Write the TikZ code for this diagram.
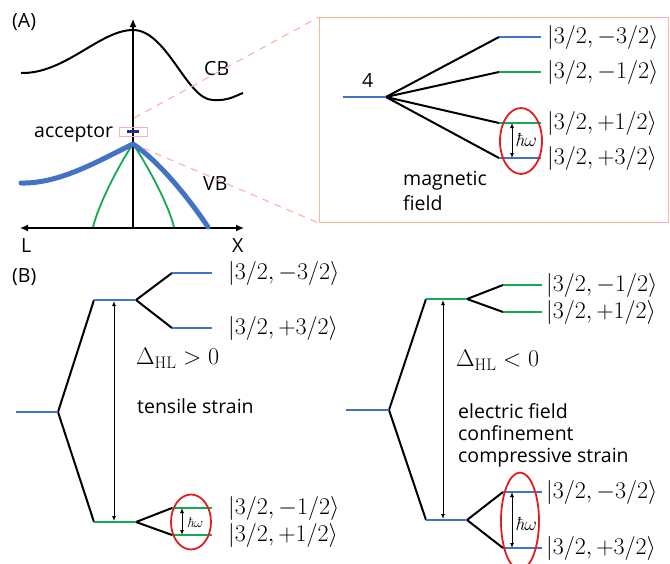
\RequirePackage{fix-cm}
\documentclass[tikz,border=0pt]{standalone}
\usepackage{fontspec}
\newfontfamily\osans{Open Sans}
\usetikzlibrary{arrows.meta}
\definecolor{lvblue}{RGB}{68,114,196}
\definecolor{lvgreen}{RGB}{20,170,80}
\definecolor{ovred}{RGB}{225,30,35}
\definecolor{pinkline}{RGB}{245,180,165}
\definecolor{navyc}{RGB}{40,40,140}
\tikzset{
  axisline/.style={line width=1.3pt},
  fanline/.style={line width=2pt, black},
  bluelev/.style={line width=2.4pt, lvblue},
  greenlev/.style={line width=2.4pt, lvgreen},
  dblarrow/.style={{Latex[length=5pt,width=4pt]}-{Latex[length=5pt,width=4pt]}, line width=0.9pt},
  ket/.style={anchor=west, inner sep=0pt, font=\fontsize{24}{28}\selectfont},
  txt/.style={anchor=base west, inner sep=0pt, font=\osans\fontsize{19.5}{23}\selectfont},
  hwlab/.style={anchor=west, inner sep=0pt, font=\fontsize{19}{22}\selectfont},
  oval/.style={draw=ovred, line width=1.8pt},
  pinkdash/.style={pinkline, line width=1.1pt, dash pattern=on 7pt off 6pt},
}
\newcommand{\hw}{{\itshape ħ}$\omega$}
\begin{document}
\begin{tikzpicture}[x=1pt,y=-1pt,line join=round]
\useasboundingbox (0,0) rectangle (670,563);

% ---------------- Panel A: band structure ----------------
\node[txt] (labA) at (12,27) {(A)};
\coordinate (yaxB) at (133,228);
\coordinate (yaxT) at (133,19);
\coordinate (xL) at (20,228);
\coordinate (xR) at (244,228);
\draw[axisline,-{Latex[length=8pt,width=7pt]}] (yaxB) -- (yaxT);
\draw[axisline,{Latex[length=8pt,width=7pt]}-{Latex[length=8pt,width=7pt]}] (xL) -- (xR);
\node[txt] (labL) at (21,252) {L};
\node[txt] (labX) at (232,252) {X};

% conduction band
\coordinate (cb0) at (21,73);
\coordinate (cbp) at (133,30);
\coordinate (cbm) at (213,100);
\coordinate (cb1) at (243,93);
\draw[line width=2pt] (cb0) .. controls (65,74) and (100,30) .. (cbp)
  .. controls (167,30) and (187,100) .. (cbm)
  .. controls (228,101) and (235,96) .. (cb1);
\node[txt] (labCB) at (204,75) {CB};

% valence band
\coordinate (vbp) at (133,144);
\coordinate (vb0) at (21,183);
\coordinate (vb1) at (208,227);
\coordinate (gr0) at (93,227);
\coordinate (gr1) at (174,227);
\draw[lvgreen,line width=1.8pt] (gr0) .. controls (100,200) and (122,160) .. (vbp)
  .. controls (144,160) and (167,200) .. (gr1);
\draw[lvblue,line width=5pt,line cap=round] (vb0) .. controls (60,184) and (100,160) .. (vbp)
  .. controls (160,162) and (190,200) .. (vb1);
\node[txt] (labVB) at (203,190) {VB};

% acceptor
\coordinate (acc0) at (127,131.5);
\coordinate (acc1) at (139,131.5);
\draw[navyc,line width=2.2pt] (acc0) -- (acc1);
\node[draw=pinkline,line width=1pt,minimum width=28pt,minimum height=9pt,inner sep=0pt] (accbox) at (133,131.5) {};
\node[txt] (labacc) at (34,137) {acceptor};

% zoom lines and inset box
\coordinate (zt0) at (134,118);
\coordinate (zb0) at (143,148);
\node[draw=pinkline,line width=1.1pt,minimum width=349pt,minimum height=205pt,inner sep=0pt,anchor=north west] (inset) at (319,17) {};
\draw[pinkdash] (zt0) -- (inset.north west);
\draw[pinkdash] (zb0) -- (inset.south west);

% ---------------- Inset: magnetic field ----------------
\coordinate (m0a) at (343,97);
\coordinate (m0b) at (386,97);
\coordinate (m1a) at (499,37);  \coordinate (m1b) at (541,37);
\coordinate (m2a) at (499,72);  \coordinate (m2b) at (541,72);
\coordinate (m3a) at (499,123); \coordinate (m3b) at (541,123);
\coordinate (m4a) at (499,158); \coordinate (m4b) at (541,158);
\foreach \t in {m1a,m2a,m3a,m4a} \draw[fanline] (m0b) -- (\t);
\draw[bluelev] (m0a) -- (m0b);
\draw[bluelev] (m1a) -- (m1b);
\draw[greenlev] (m2a) -- (m2b);
\draw[greenlev] (m3a) -- (m3b);
\draw[bluelev] (m4a) -- (m4b);
\node[txt] (lab4) at (362,87) {4};
\node[ket] (k1) at (547,37) {$|3/2,-3/2\rangle$};
\node[ket] (k2) at (547,72) {$|3/2,-1/2\rangle$};
\node[ket] (k3) at (547,123) {$|3/2,+1/2\rangle$};
\node[ket] (k4) at (547,158) {$|3/2,+3/2\rangle$};
\coordinate (ma1) at (512,123);
\coordinate (ma2) at (512,158);
\draw[dblarrow] (ma1) -- (ma2);
\node[hwlab] (hw1) at (515,140) {\hw};
\coordinate (ov1) at (521,141);
\draw[oval] (ov1) ellipse [x radius=21, y radius=33];
\node[txt] (labmag1) at (403,185) {magnetic};
\node[txt] (labmag2) at (403,210) {field};

% ---------------- Panel B left: tensile strain ----------------
\node[txt] (labB) at (12,282) {(B)};
\coordinate (p0a) at (16,412);  \coordinate (p0b) at (58,412);
\coordinate (pta) at (94,300);  \coordinate (ptb) at (136,300);
\coordinate (pba) at (94,522);  \coordinate (pbb) at (136,522);
\coordinate (s1a) at (172,273); \coordinate (s1b) at (212,273);
\coordinate (s2a) at (172,328); \coordinate (s2b) at (212,328);
\coordinate (s3a) at (172,508); \coordinate (s3b) at (212,508);
\coordinate (s4a) at (172,535); \coordinate (s4b) at (212,535);
\draw[fanline] (p0b) -- (pta);
\draw[fanline] (p0b) -- (pba);
\draw[fanline] (ptb) -- (s1a);
\draw[fanline] (ptb) -- (s2a);
\draw[fanline] (pbb) -- (s3a);
\draw[fanline] (pbb) -- (s4a);
\draw[bluelev] (p0a) -- (p0b);
\draw[bluelev] (pta) -- (ptb);
\draw[greenlev] (pba) -- (pbb);
\draw[bluelev] (s1a) -- (s1b);
\draw[bluelev] (s2a) -- (s2b);
\draw[greenlev] (s3a) -- (s3b);
\draw[greenlev] (s4a) -- (s4b);
\coordinate (da1) at (114,301);
\coordinate (da2) at (114,521);
\draw[dblarrow] (da1) -- (da2);
\node[ket] (kb1) at (228,273) {$|3/2,-3/2\rangle$};
\node[ket] (kb2) at (228,328) {$|3/2,+3/2\rangle$};
\node[ket] (kb3) at (228,508) {$|3/2,-1/2\rangle$};
\node[ket] (kb4) at (228,535) {$|3/2,+1/2\rangle$};
\node[ket] (dHL1) at (136,358) {$\Delta_{\mathrm{HL}}>0$};
\node[txt] (labtens) at (137,413) {tensile strain};
\coordinate (sa1) at (182,508);
\coordinate (sa2) at (182,535);
\draw[dblarrow] (sa1) -- (sa2);
\node[hwlab,font=\fontsize{14}{16}\selectfont] (hw2) at (187,523) {\hw};
\coordinate (ov2) at (191,522);
\draw[oval] (ov2) ellipse [x radius=20, y radius=27.5];

% ---------------- Panel B right: compressive ----------------
\coordinate (q0a) at (346,410); \coordinate (q0b) at (389,410);
\coordinate (qta) at (426,299); \coordinate (qtb) at (467,299);
\coordinate (qba) at (426,520); \coordinate (qbb) at (467,520);
\coordinate (r1a) at (503,285); \coordinate (r1b) at (542,285);
\coordinate (r2a) at (503,312); \coordinate (r2b) at (542,312);
\coordinate (r3a) at (503,492); \coordinate (r3b) at (542,492);
\coordinate (r4a) at (503,548); \coordinate (r4b) at (542,548);
\draw[fanline] (q0b) -- (qta);
\draw[fanline] (q0b) -- (qba);
\draw[fanline] (qtb) -- (r1a);
\draw[fanline] (qtb) -- (r2a);
\draw[fanline] (qbb) -- (r3a);
\draw[fanline] (qbb) -- (r4a);
\draw[bluelev] (q0a) -- (q0b);
\draw[greenlev] (qta) -- (qtb);
\draw[bluelev] (qba) -- (qbb);
\draw[greenlev] (r1a) -- (r1b);
\draw[greenlev] (r2a) -- (r2b);
\draw[bluelev] (r3a) -- (r3b);
\draw[bluelev] (r4a) -- (r4b);
\coordinate (db1) at (443,300);
\coordinate (db2) at (443,519);
\draw[dblarrow] (db1) -- (db2);
\node[ket] (kc1) at (546,285) {$|3/2,-1/2\rangle$};
\node[ket] (kc2) at (546,312) {$|3/2,+1/2\rangle$};
\node[ket] (kc3) at (546,492) {$|3/2,-3/2\rangle$};
\node[ket] (kc4) at (546,548) {$|3/2,+3/2\rangle$};
\node[ket] (dHL2) at (456,360) {$\Delta_{\mathrm{HL}}<0$};
\node[txt] (label1) at (458,418) {electric field};
\node[txt] (labconf) at (458,440) {confinement};
\node[txt] (labcomp) at (458,462) {compressive strain};
\coordinate (ra1) at (512,492);
\coordinate (ra2) at (512,548);
\draw[dblarrow] (ra1) -- (ra2);
\node[hwlab] (hw3) at (515,524) {\hw};
\coordinate (ov3) at (520,521);
\draw[oval] (ov3) ellipse [x radius=19, y radius=48.5];
\end{tikzpicture}
\end{document}
